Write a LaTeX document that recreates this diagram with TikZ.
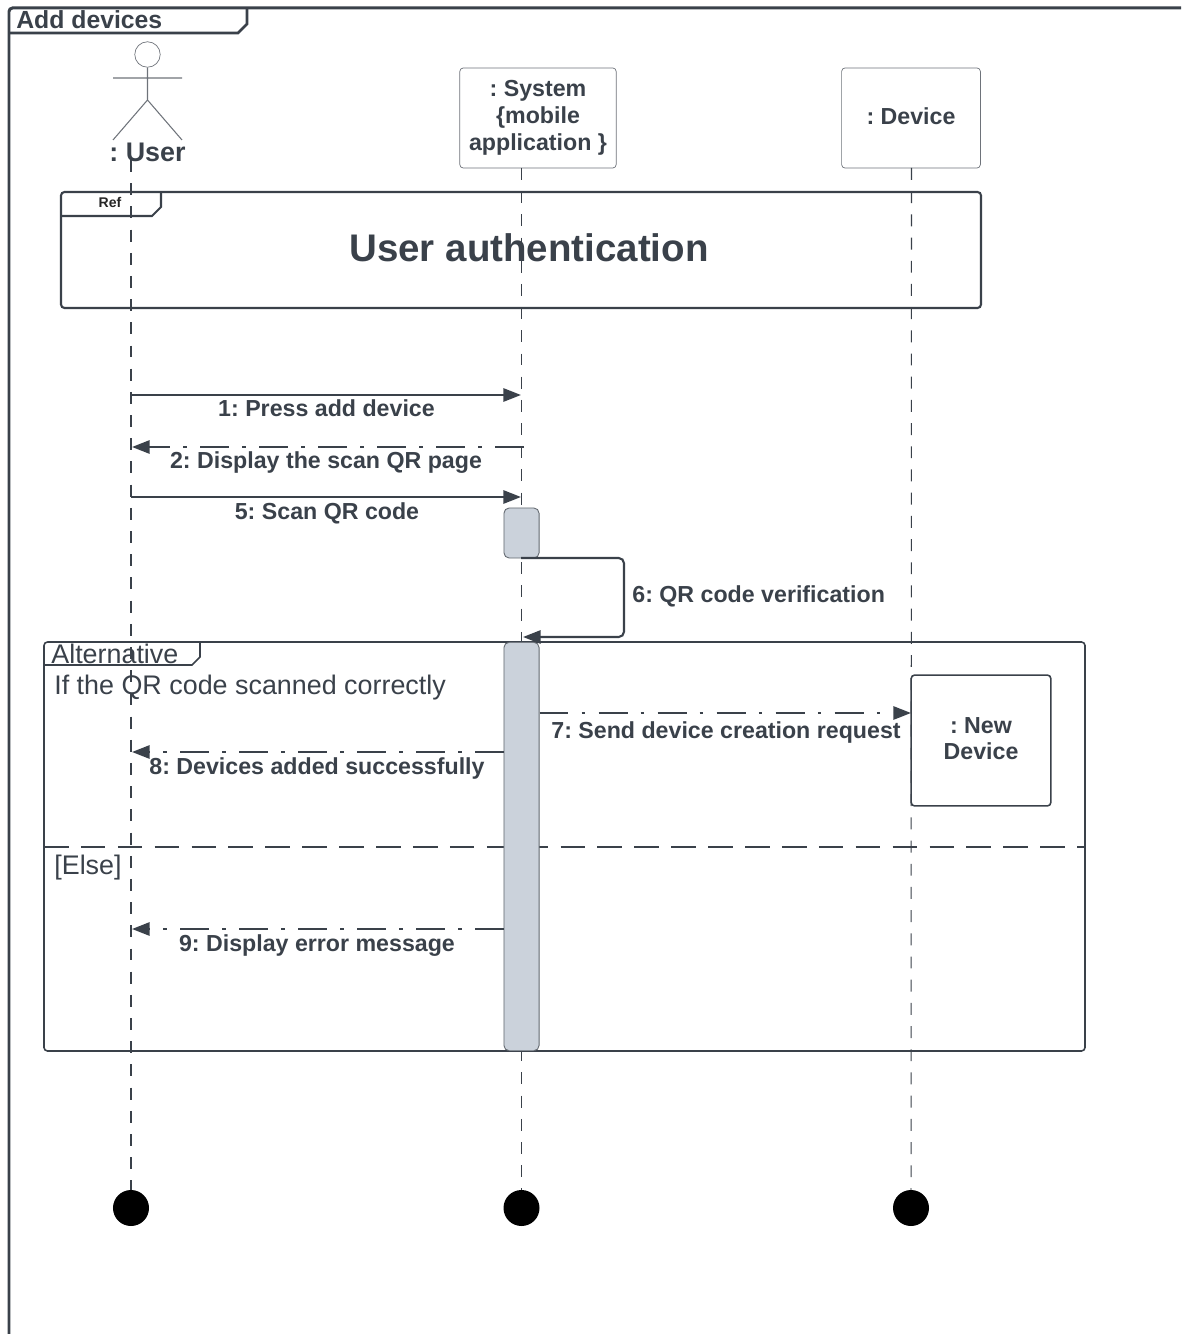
\documentclass[tikz,border=0pt]{standalone}
\usepackage{fontspec}
\setmainfont{Liberation Sans}
\usetikzlibrary{arrows.meta,positioning}
\definecolor{ink}{HTML}{3A414A}
\definecolor{edge}{HTML}{6E737A}
\definecolor{actfill}{HTML}{CBD2DB}
\tikzset{
	box/.style = {draw=edge,rounded corners=2pt,fill=white,align=center,text=ink,font=\fontsize{13.2}{15.2}\selectfont\bfseries,inner sep=0pt},
	activation/.style = {draw=ink!80,rounded corners=3pt,fill=actfill,line width=0.5pt},
	lifeline/.style = {draw=ink,line width=0.6pt,dash pattern=on 6.8pt off 6.4pt},
	msg/.style = {draw=ink,line width=1.2pt,-{Triangle[length=10pt,width=7.5pt]}},
	reply/.style = {msg,dash pattern=on 16.5pt off 7.5pt on 2pt off 7.6pt},
	msglabel/.style = {text=ink,font=\fontsize{13.2}{15}\selectfont\bfseries,inner sep=0pt},
	altlabel/.style = {text=ink,font=\fontsize{15.3}{17}\selectfont,inner sep=0pt,anchor=west},
	enddot/.style = {circle,fill=black,minimum size=20.5pt,inner sep=0pt},
	framepart/.style = {draw=ink,rounded corners=2pt}
}
\begin{document}
\frenchspacing
\begin{tikzpicture}[x=0.02cm,y=-0.02cm]
	\useasboundingbox (0,0) rectangle (1181,1334);

	% outer frame
	\draw[framepart,line width=1.7pt] (1181,8) -- (9,8) -- (9,1334);
	\draw[framepart,line width=1.5pt,rounded corners=0pt] (9,33) -- (238,33) -- (247,24) -- (247,8);
	\node[text=ink,font=\fontsize{14.1}{16}\selectfont\bfseries,inner sep=0pt,anchor=west] (title) at (16,20) {Add devices};

	% actor
	\node[circle,draw=edge,minimum size=14.5pt,inner sep=0pt] (head) at (147.5,54.5) {};
	\coordinate (hip) at (147.5,100);
	\draw[edge,line width=0.6pt] (head) -- (hip) (113,78) -- (182,78) (113,140) -- (hip) -- (182,140);
	\node[text=ink,font=\fontsize{15.3}{17}\selectfont\bfseries,inner sep=0pt] (user) at (147.5,152) {: User};

	% ref frame
	\draw[framepart,line width=1.2pt] (61,192) rectangle (981,308);
	\draw[framepart,line width=1.2pt,rounded corners=0pt] (61,216) -- (152,216) -- (161,207) -- (161,192);
	\node[font=\fontsize{8}{9}\selectfont\bfseries,inner sep=0pt,text=black!85] (ref) at (110,202) {Ref};
	\node[text=ink,font=\fontsize{21.9}{24}\selectfont\bfseries,inner sep=0pt] (auth) at (529,248) {User authentication};

	% alternative frame
	\draw[framepart,line width=0.9pt] (44,642) rectangle (1085,1051);
	\draw[framepart,line width=0.9pt,rounded corners=0pt] (44,665) -- (192,665) -- (200,657) -- (200,642);
	\draw[ink,line width=0.6pt,dash pattern=on 14pt off 7pt] (44,847) -- (1085,847);
	\node[altlabel] (alt) at (51,654) {Alternative};
	\node[altlabel] (cond) at (54,688) {If the QR code scanned correctly};
	\node[altlabel] (else) at (54,868) {[Else]};

	% lifelines
	\node[box,minimum width=89pt,minimum height=57pt] (system) at (538,118) {: System\\\{mobile\\application \}};
	\node[box,minimum width=79pt,minimum height=57pt] (device) at (911,118) {\raisebox{1.7pt}{: Device}};
	\node[enddot] (enduser) at (131,1208) {};
	\node[enddot] (endsystem) at (521.5,1208) {};
	\node[enddot] (enddevice) at (911,1208) {};
	\coordinate (usertop) at (131,160);
	\coordinate (systemtop) at (521.5,168);
	\coordinate (devicetop) at (911.5,168);
	\draw[lifeline] (usertop) -- (enduser);
	\draw[lifeline] (systemtop) -- (endsystem);
	\draw[lifeline] (devicetop) -- (enddevice);

	% activations
	\node[activation,minimum width=20pt,minimum height=28.5pt,inner sep=0pt] (act1) at (521.5,533) {};
	\node[activation,minimum width=20pt,minimum height=232.5pt,inner sep=0pt] (act2) at (521.5,846.5) {};
	\node[box,draw=ink,line width=0.9pt,minimum width=79.5pt,minimum height=74.5pt] (newdev) at (981,740.5) {\raisebox{2.2pt}{: New}\\[-0.6pt]\raisebox{2.2pt}{Device}};

	% messages
	\coordinate (u1) at (131,395);  \coordinate (s1) at (521,395);
	\coordinate (s2) at (524,447);  \coordinate (u2) at (132,447);
	\coordinate (u3) at (131,497);  \coordinate (s3) at (521,497);
	\coordinate (s4) at (521,558);  \coordinate (s5) at (523,637);
	\coordinate (a7) at (539.5,713);\coordinate (d7) at (911,713);
	\coordinate (a8) at (504,752);  \coordinate (u8) at (132,752);
	\coordinate (a9) at (504,929);  \coordinate (u9) at (132,929);

	\draw[msg] (u1) -- (s1);
	\draw[reply] (s2) -- (u2);
	\draw[msg] (u3) -- (s3);
	\draw[msg,rounded corners=3pt] (s4) -- (624,558) -- (624,637) -- (s5);
	\draw[reply] (a7) -- (d7);
	\draw[reply] (a8) -- (u8);
	\draw[reply] (a9) -- (u9);

	\node[msglabel] (m1) at (326.5,408) {1: Press add device};
	\node[msglabel] (m2) at (326,462.5) {2: Display the scan QR page};
	\node[msglabel] (m5) at (327,513) {5: Scan QR code};
	\node[msglabel,anchor=west] (m6) at (632,596) {6: QR code verification};
	\node[msglabel] (m7) at (726,732) {7: Send device creation request};
	\node[msglabel] (m8) at (317,768) {8: Devices added successfully};
	\node[msglabel] (m9) at (317,946) {9: Display error message};
\end{tikzpicture}
\end{document}
